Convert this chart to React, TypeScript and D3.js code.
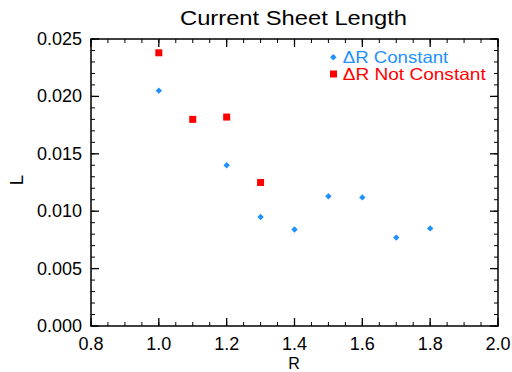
import React from "react";
import * as d3 from "d3";

const constR = [1.0, 1.2, 1.3, 1.4, 1.5, 1.6, 1.7, 1.8];
const constL = [0.0205, 0.0140, 0.0095, 0.0084, 0.0113, 0.0112, 0.0077, 0.0085];
const varR = [1.0, 1.1, 1.2, 1.3];
const varL = [0.0238, 0.0180, 0.0182, 0.0125];
const xTicks = [0.8, 1.0, 1.2, 1.4, 1.6, 1.8, 2.0];
const yTicks = [0, 0.005, 0.01, 0.015, 0.02, 0.025];
const legendLabels = ["ΔR Constant", "ΔR Not Constant"];

const W = 512, H = 372;
const M = { l: 91, r: 498, t: 39, b: 326 };
const FONT = "'Liberation Sans', Arial, Helvetica, sans-serif";
const BLUE = "#1e90ff";
const RED = "#ff0000";

export default function App() {
  const x = d3.scaleLinear().domain([0.8, 2.0]).range([M.l, M.r]);
  const y = d3.scaleLinear().domain([0, 0.025]).range([M.b, M.t]);
  const xMinor = d3.range(0.8, 2.0001, 0.05);
  const yMinor = d3.range(0, 0.02501, 0.001);
  const diamond = (cx: number, cy: number, r: number) =>
    `M${cx},${cy - r}L${cx + r},${cy}L${cx},${cy + r}L${cx - r},${cy}Z`;
  return (
    <svg width={W} height={H} style={{ position: "absolute", left: 0, top: 0 }} fontFamily={FONT}>
      <rect width={W} height={H} fill="#fff" />
      <text x={293.5} y={24.5} textAnchor="middle" fontSize={20.5} fill="#000"
        textLength={227} lengthAdjust="spacingAndGlyphs">
        Current Sheet Length
      </text>
      {xMinor.map((v, i) => (
        <g key={"xm" + i} stroke="#000" strokeWidth={1}>
          <line x1={x(v)} x2={x(v)} y1={M.b} y2={M.b - 4} />
          <line x1={x(v)} x2={x(v)} y1={M.t} y2={M.t + 4} />
        </g>
      ))}
      {yMinor.map((v, i) => (
        <g key={"ym" + i} stroke="#000" strokeWidth={1}>
          <line x1={M.l} x2={M.l + 4} y1={y(v)} y2={y(v)} />
          <line x1={M.r} x2={M.r - 4} y1={y(v)} y2={y(v)} />
        </g>
      ))}
      {xTicks.map((v, i) => (
        <g key={"xt" + i}>
          <line x1={x(v)} x2={x(v)} y1={M.b} y2={M.b - 8} stroke="#000" strokeWidth={1.3} />
          <line x1={x(v)} x2={x(v)} y1={M.t} y2={M.t + 8} stroke="#000" strokeWidth={1.3} />
          <text x={x(v)} y={M.b + 24} textAnchor="middle" fontSize={18} fill="#000">
            {d3.format(".1f")(v)}
          </text>
        </g>
      ))}
      {yTicks.map((v, i) => (
        <g key={"yt" + i}>
          <line x1={M.l} x2={M.l + 8} y1={y(v)} y2={y(v)} stroke="#000" strokeWidth={1.3} />
          <line x1={M.r} x2={M.r - 8} y1={y(v)} y2={y(v)} stroke="#000" strokeWidth={1.3} />
          <text x={M.l - 9} y={y(v) + 6} textAnchor="end" fontSize={18} fill="#000">
            {d3.format(".3f")(v)}
          </text>
        </g>
      ))}
      <rect x={M.l} y={M.t} width={M.r - M.l} height={M.b - M.t} fill="none" stroke="#000" strokeWidth={1.5} />
      <text x={294} y={368.5} textAnchor="middle" fontSize={16} fill="#000">R</text>
      <text transform={`translate(22.5,180) rotate(-90)`} textAnchor="middle" fontSize={18.5} fill="#000">L</text>
      {constR.map((r, i) => (
        <path key={"c" + i} d={diamond(x(r), y(constL[i]), 3.2)} fill={BLUE} />
      ))}
      {varR.map((r, i) => (
        <rect key={"v" + i} x={x(r) - 3.5} y={y(varL[i]) - 3.5} width={7} height={7} fill={RED} />
      ))}
      <path d={diamond(333.3, 57.3, 3.2)} fill={BLUE} />
      <text x={342.7} y={63} fontSize={16.5} fill={BLUE} textLength={105.6} lengthAdjust="spacingAndGlyphs">{legendLabels[0]}</text>
      <rect x={330} y={70.5} width={7} height={7} fill={RED} />
      <text x={342.7} y={79.7} fontSize={16.5} fill={RED} textLength={143} lengthAdjust="spacingAndGlyphs">{legendLabels[1]}</text>
    </svg>
  );
}
